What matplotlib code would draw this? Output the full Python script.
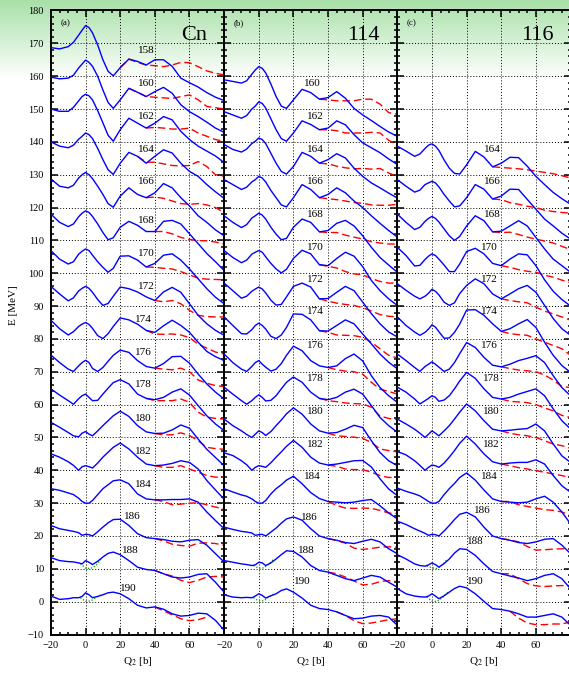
import numpy as np
import matplotlib.pyplot as plt
from matplotlib.ticker import MultipleLocator

plt.rcParams['font.family'] = ['Liberation Serif', 'DejaVu Serif']
plt.rcParams['mathtext.fontset'] = 'stix'

# Q2 grid [b] shared by all curves
Q = [-20, -15, -10, -7, -4, -2, 0, 2, 4, 7, 10, 13, 16, 20, 25, 30, 35, 40, 45, 50, 55, 60, 65, 70, 75, 80]
Q_red = [20, 25, 30, 35, 40, 45, 50, 55, 60, 65, 70, 75, 80]
Q_green = [-3, 0, 3, 6, 9]

# ---------------- (a) Cn ----------------
N_a = [158, 160, 162, 164, 166, 168, 170, 172, 174, 176, 178, 180, 182, 184, 186, 188, 190]
blue_a = [
    [8.7, 8.3, 9.0, 10.3, 12.5, 14.0, 15.4, 14.8, 13.2, 9.5, 5.0, 1.5, 0.1, 2.6, 5.2, 4.5, 3.4, 5.0, 5.0, 3.0, -0.6, -2.0, -3.3, -5.0, -6.4, -7.4],
    [9.7, 9.2, 9.4, 10.3, 12.5, 13.7, 14.9, 14.2, 13.0, 10.0, 5.8, 2.0, 0.2, 2.8, 6.3, 5.1, 3.8, 5.3, 6.6, 4.8, 1.3, -0.8, -2.3, -4.0, -5.8, -7.1],
    [10.0, 9.3, 9.3, 10.5, 12.5, 13.8, 14.5, 14.0, 12.8, 9.5, 5.8, 2.0, 0.2, 3.7, 7.2, 5.7, 4.2, 5.7, 7.7, 6.7, 3.2, 0.7, -1.3, -2.8, -4.3, -6.3],
    [10.0, 8.7, 8.2, 9.0, 10.8, 11.7, 12.7, 12.2, 11.0, 8.0, 4.6, 1.5, 0.1, 3.5, 6.8, 5.6, 3.5, 5.6, 7.6, 6.6, 3.5, 1.0, -0.5, -3.0, -5.2, -7.2],
    [8.7, 6.5, 6.0, 6.8, 9.0, 10.0, 10.7, 10.0, 8.8, 6.5, 4.0, 1.2, 0.1, 3.5, 6.0, 4.0, 3.0, 4.5, 7.3, 6.0, 3.0, 0.5, -2.5, -4.5, -6.8, -8.6],
    [8.0, 5.5, 4.2, 5.0, 7.2, 8.3, 9.0, 8.5, 7.3, 5.0, 2.4, 0.2, 0.8, 4.0, 5.8, 4.6, 2.7, 2.7, 5.8, 6.1, 5.0, 2.0, -1.0, -4.0, -6.5, -9.2],
    [6.9, 4.3, 2.8, 3.5, 5.8, 6.7, 7.4, 6.9, 5.5, 3.5, 1.8, 0.3, 1.5, 5.2, 5.3, 4.0, 1.9, 3.0, 5.5, 5.9, 4.0, 1.3, -1.7, -4.7, -7.3, -9.3],
    [6.0, 3.7, 1.6, 2.5, 4.6, 5.4, 6.0, 5.4, 4.2, 2.0, 0.2, 0.8, 3.0, 5.8, 5.3, 4.3, 2.8, 1.7, 4.3, 5.7, 4.2, 0.7, -2.8, -5.4, -7.4, -8.9],
    [5.7, 3.1, 1.2, 2.2, 3.8, 4.5, 5.0, 4.4, 3.2, 1.0, 0.1, 1.6, 3.8, 6.4, 5.8, 4.5, 2.6, 2.0, 4.0, 5.7, 4.1, 2.0, -1.0, -3.8, -5.4, -6.6],
    [5.1, 2.8, 0.8, 0.1, 1.8, 2.8, 3.5, 2.8, 1.0, 0.1, 1.3, 3.2, 5.0, 6.6, 5.9, 3.4, 1.6, 1.1, 2.5, 4.6, 4.7, 2.6, -0.7, -3.7, -6.2, -8.3],
    [4.8, 2.9, 1.2, 0.1, 1.8, 2.7, 3.2, 2.2, 1.2, 1.3, 3.2, 5.0, 6.7, 7.6, 6.3, 3.2, 1.9, 1.5, 2.2, 3.8, 4.8, 2.9, -0.3, -3.4, -5.9, -7.9],
    [4.6, 3.1, 1.5, 0.5, 0.2, 1.3, 1.8, 1.0, 0.5, 2.0, 3.6, 5.1, 6.6, 8.0, 6.4, 3.6, 1.7, 1.2, 1.3, 2.3, 3.8, 2.8, -0.5, -3.6, -6.1, -8.6],
    [5.0, 4.0, 2.6, 1.5, 0.0, 1.1, 1.4, 1.1, 0.7, 2.2, 4.0, 5.5, 7.0, 8.3, 6.5, 4.0, 1.9, 1.4, 1.6, 2.1, 2.9, 2.4, 0.4, -3.1, -6.0, -8.8],
    [4.4, 3.9, 3.1, 2.6, 1.5, 0.5, 0.0, 0.0, 0.8, 2.6, 4.4, 5.6, 6.8, 7.1, 5.9, 2.8, 1.3, 1.0, 1.0, 1.1, 1.1, 1.3, 0.3, -2.7, -5.3, -7.8],
    [3.2, 2.2, 1.7, 1.4, 1.0, 0.2, 0.5, 0.4, 0.0, 1.3, 2.7, 4.0, 5.0, 5.1, 3.2, 0.7, -0.5, -0.8, -1.1, -1.6, -1.8, -1.3, -1.1, -2.8, -5.4, -7.9],
    [3.4, 2.5, 2.2, 2.1, 1.8, 1.5, 2.5, 2.0, 1.3, 2.3, 3.6, 4.7, 5.1, 4.3, 2.5, 0.5, -0.2, -0.5, -1.5, -2.5, -2.8, -2.5, -1.7, -1.5, -4.1, -7.1],
    [1.7, 0.7, 0.9, 1.2, 1.2, 1.6, 2.7, 2.1, 1.2, 1.6, 2.1, 2.7, 2.9, 2.4, 0.9, -1.1, -1.9, -1.6, -2.3, -3.7, -4.4, -4.2, -3.5, -3.7, -5.7, -8.7],
]
red_from_a = [20, 25, 35, 30, 35, 40, 35, 40, 35, 40, 35, 40, 40, 40, 40, 40, 40]
red_a = [
    [2.6, 5.2, 4.2, 3.4, 3.2, 2.9, 3.4, 4.2, 4.1, 2.9, 1.6, 0.9, 0.4],
    [6.3, 5.1, 3.8, 3.6, 3.4, 3.2, 3.8, 4.3, 2.8, 0.8, 0.4, 0.0],
    [4.2, 4.4, 4.2, 3.9, 3.9, 4.2, 2.7, 1.7, 0.7, 0.2],
    [5.6, 3.8, 3.8, 3.3, 2.8, 2.7, 2.8, 4.0, 2.5, 0.0, -0.5],
    [3.0, 3.2, 2.8, 2.0, 1.2, 1.0, 1.2, 0.8, 0.0, -1.5],
    [2.7, 2.7, 2.0, 0.9, 0.3, -0.1, -0.1, -0.5, -1.1],
    [1.9, 1.8, 1.5, 1.3, 0.5, -0.5, -1.5, -1.8, -1.9, -2.0],
    [1.7, 1.3, 1.7, 0.7, -1.3, -2.8, -3.2, -3.3, -3.3],
    [2.6, 1.5, 1.4, 1.5, 1.2, 0.4, -1.6, -2.8, -4.0, -4.6],
    [1.1, 0.8, 0.6, 1.1, 0.0, -2.5, -3.5, -4.2, -4.5],
    [1.9, 1.2, 1.2, 1.2, 1.7, 0.7, -2.3, -3.8, -4.2, -4.4],
    [1.2, 0.8, 0.8, 1.4, 0.6, -1.0, -3.0, -3.4, -3.6],
    [1.4, 0.9, 0.9, 1.4, 0.4, -0.6, -1.6, -2.1, -2.1],
    [1.0, 0.5, -0.5, -0.3, 0.0, 0.1, -0.5, -1.2, -1.7],
    [-0.8, -1.5, -2.5, -2.9, -3.1, -2.2, -2.1, -2.3, -2.8],
    [-0.5, -1.5, -2.2, -3.5, -4.2, -3.5, -2.5, -2.3, -2.5],
    [-1.6, -2.8, -4.0, -5.2, -5.8, -5.5, -4.7],
]
green_a = [[1.6, 0.2, 0.1, 1.0, 3.0], [1.2, 0.1, 0.2, 1.3, 2.1]]
lab_q_a = [35.3, 35.3, 35.3, 35.3, 35.3, 35.3, 35.3, 35.3, 33.3, 33.3, 33.3, 33.3, 33.3, 33.3, 27.1, 25.6, 24.6]
lab_e_a = [167.8, 157.9, 147.8, 137.8, 127.8, 116.0, 106.0, 96.0, 86.0, 75.9, 66.0, 55.8, 45.8, 35.7, 25.8, 15.6, 4.0]

# ---------------- (b) 114 ----------------
N_b = [160, 162, 164, 166, 168, 170, 172, 174, 176, 178, 180, 182, 184, 186, 188, 190]
blue_b = [
    [8.9, 8.4, 7.9, 8.6, 10.6, 11.9, 12.9, 12.4, 11.0, 7.6, 3.8, 0.9, 0.2, 2.8, 6.0, 5.0, 3.0, 3.5, 5.3, 3.3, 0.2, -1.8, -3.5, -5.3, -7.0, -8.3],
    [9.2, 8.2, 7.2, 8.0, 10.0, 10.9, 12.2, 11.7, 10.3, 7.0, 3.7, 1.0, 0.2, 2.7, 6.4, 5.3, 3.7, 4.2, 6.4, 5.2, 2.2, -0.3, -1.8, -3.3, -5.2, -6.9],
    [9.2, 7.7, 6.9, 7.8, 9.5, 10.2, 11.2, 10.7, 9.5, 6.5, 3.5, 1.0, 0.2, 2.5, 6.8, 5.6, 3.5, 4.6, 6.4, 5.1, 2.0, -0.5, -2.5, -4.0, -5.6, -7.1],
    [8.5, 7.0, 5.5, 6.2, 7.8, 8.5, 9.5, 9.0, 7.8, 5.2, 3.0, 0.8, 0.2, 3.0, 7.0, 5.5, 3.0, 4.0, 6.0, 4.5, 2.0, 0.0, -2.5, -4.8, -7.0, -9.0],
    [7.5, 5.5, 3.9, 4.8, 6.8, 7.5, 8.3, 7.7, 6.5, 4.0, 1.9, 0.2, 0.6, 4.0, 6.5, 5.5, 2.6, 3.0, 5.2, 6.1, 4.4, 1.4, -2.1, -5.2, -7.5, -9.7],
    [6.9, 4.8, 3.2, 4.0, 5.8, 6.4, 6.9, 6.4, 5.0, 3.0, 1.3, 0.1, 1.2, 4.5, 7.0, 5.9, 2.6, 2.3, 4.5, 6.4, 5.2, 2.0, -2.2, -5.3, -7.8, -9.8],
    [7.0, 4.7, 2.4, 3.0, 4.5, 5.2, 5.8, 5.2, 4.0, 1.8, 0.3, 0.5, 2.8, 6.0, 7.0, 5.8, 2.2, 2.3, 4.2, 6.0, 4.7, 1.2, -2.3, -5.4, -7.9, -9.4],
    [6.7, 4.1, 1.6, 1.5, 2.8, 4.1, 4.8, 4.1, 3.0, 0.8, 0.1, 1.2, 3.5, 7.6, 7.5, 5.8, 2.5, 2.4, 4.1, 5.8, 4.6, 1.5, -1.5, -4.6, -7.1, -9.1],
    [5.4, 2.8, 0.8, 0.1, 1.6, 2.8, 3.4, 2.3, 1.4, 0.2, 0.8, 2.5, 5.0, 7.8, 6.4, 3.4, 1.8, 1.3, 1.8, 4.0, 5.4, 3.3, -1.2, -4.8, -7.3, -9.3],
    [5.3, 3.2, 1.2, 0.1, 1.2, 2.2, 3.0, 2.2, 1.1, 1.3, 2.7, 4.8, 6.8, 8.4, 6.8, 3.8, 1.9, 1.5, 2.2, 3.8, 4.7, 3.2, -0.3, -3.9, -6.4, -8.4],
    [5.6, 3.6, 2.0, 0.9, 0.0, 1.0, 2.0, 1.5, 0.6, 1.8, 3.6, 5.3, 7.2, 9.0, 7.1, 4.1, 2.0, 1.3, 1.5, 2.5, 3.7, 3.0, -1.0, -4.6, -7.1, -8.6],
    [5.3, 4.5, 2.9, 1.7, 0.0, 0.9, 1.4, 1.2, 0.9, 2.3, 4.0, 5.6, 7.3, 9.1, 7.0, 4.0, 2.2, 1.6, 1.9, 2.4, 2.9, 3.0, 1.0, -2.6, -5.7, -7.7],
    [4.4, 3.4, 2.5, 2.1, 1.3, 0.5, 0.0, 0.0, 0.8, 2.8, 4.4, 5.6, 7.0, 8.2, 5.9, 3.2, 1.4, 0.5, 0.3, 0.1, 0.3, 0.8, 1.1, -0.8, -3.0, -4.8],
    [2.7, 2.0, 1.4, 1.2, 0.9, 0.2, 0.4, 0.5, 0.0, 1.2, 2.4, 3.9, 5.2, 5.8, 4.8, 2.2, 0.0, -0.8, -1.3, -2.0, -2.3, -1.6, -1.0, -1.8, -3.9, -5.4],
    [2.5, 2.0, 1.5, 1.3, 1.0, 1.2, 2.0, 1.8, 1.0, 1.8, 3.0, 4.3, 5.5, 5.3, 3.6, 1.0, -0.5, -1.0, -2.0, -3.0, -3.6, -2.8, -2.0, -2.5, -4.1, -5.6],
    [2.1, 1.4, 1.2, 1.3, 1.2, 1.7, 2.4, 1.9, 1.1, 1.8, 2.4, 3.4, 3.9, 2.9, 1.1, -1.1, -2.1, -2.4, -3.1, -4.2, -5.2, -5.0, -4.4, -4.2, -4.7, -7.2],
]
red_from_b = [35, 35, 35, 35, 35, 35, 35, 35, 40, 35, 40, 40, 40, 40, 40, 45]
red_b = [
    [3.0, 2.8, 2.5, 2.5, 2.5, 3.0, 3.0, 1.5, -1.1, -1.6],
    [3.7, 3.7, 3.4, 2.7, 2.7, 2.7, 2.9, 2.7, 0.5, -1.1],
    [3.5, 3.3, 2.6, 2.1, 1.8, 1.9, 1.7, 1.9, 0.5, -0.5],
    [3.0, 2.7, 2.4, 2.0, 1.5, 1.3, 0.8, 0.7, 0.7, 1.0],
    [2.6, 2.4, 2.4, 1.6, 1.0, 0.4, -0.4, -0.8, -1.1, -1.1],
    [2.6, 2.1, 1.6, 0.5, -0.2, -0.5, -1.6, -2.5, -3.0, -3.0],
    [2.2, 1.5, 0.9, 0.5, 0.2, -0.5, -1.5, -2.6, -3.1, -3.3],
    [2.5, 2.0, 1.2, 1.1, 1.0, 0.5, -1.0, -3.0, -5.0, -5.8],
    [1.3, 0.6, 0.2, 0.0, -0.7, -3.2, -5.3, -6.0, -6.8],
    [1.9, 1.2, 0.9, 0.5, 0.3, 0.2, -0.8, -3.5, -4.2, -4.6],
    [1.3, 0.5, 0.3, 0.1, -0.3, -1.5, -3.5, -4.0, -4.4],
    [1.6, 1.2, 0.4, 0.2, 0.2, -0.6, -1.6, -2.2, -2.1],
    [0.5, -0.7, -1.5, -1.6, -1.5, -1.6, -2.2, -3.0, -3.2],
    [-0.8, -1.4, -2.2, -3.7, -4.1, -3.8, -3.4, -3.3, -3.4],
    [-1.0, -1.5, -2.5, -3.7, -4.9, -4.7, -3.9, -3.6, -3.9],
    [-3.1, -4.2, -5.8, -6.7, -6.5, -6.0, -5.5, -5.2],
]
green_b = [[1.0, 0.2, 0.3, 1.5, 3.2], [1.2, 0.2, 0.3, 1.5, 2.4]]
lab_q_b = [31.2, 32.9, 32.9, 32.9, 32.9, 32.9, 32.9, 32.9, 32.9, 32.9, 32.9, 32.9, 31.2, 29.3, 27.3, 25.4]
lab_e_b = [157.9, 147.8, 137.8, 127.8, 117.8, 107.9, 98.1, 88.2, 78.0, 68.0, 58.0, 48.0, 38.1, 25.7, 15.6, 6.0]

# ---------------- (c) 116 ----------------
N_c = [164, 166, 168, 170, 172, 174, 176, 178, 180, 182, 184, 186, 188, 190]
blue_c = [
    [8.7, 7.2, 5.6, 6.3, 8.0, 9.0, 9.4, 8.7, 7.4, 4.5, 2.0, 0.4, 0.2, 3.0, 7.1, 5.4, 2.4, 3.5, 5.3, 5.2, 2.6, -0.5, -3.0, -5.4, -7.3, -9.0],
    [8.5, 6.5, 4.7, 5.3, 7.0, 7.5, 8.0, 7.5, 6.3, 4.0, 2.0, 0.2, 0.5, 3.0, 7.0, 5.6, 2.6, 3.5, 5.6, 5.5, 2.5, -0.5, -3.5, -5.6, -7.8, -9.6],
    [8.0, 5.5, 3.3, 4.0, 5.8, 6.7, 7.3, 6.7, 5.6, 3.5, 1.4, 0.0, 1.2, 4.4, 7.5, 6.0, 2.6, 2.8, 4.4, 6.0, 4.4, 0.9, -2.6, -5.7, -7.7, -9.7],
    [7.9, 5.4, 2.2, 2.4, 4.2, 5.2, 5.9, 5.4, 4.3, 2.5, 0.5, 0.5, 2.8, 6.6, 7.6, 5.9, 3.0, 2.3, 4.3, 5.9, 5.6, 2.3, -2.0, -5.5, -8.0, -10.0],
    [6.8, 4.8, 3.0, 2.2, 3.0, 3.9, 5.1, 4.5, 3.4, 1.2, 0.2, 1.0, 3.8, 6.3, 8.3, 6.8, 3.7, 2.2, 3.7, 5.3, 6.3, 4.2, 0.2, -3.8, -6.9, -8.9],
    [6.7, 4.1, 2.1, 1.1, 2.0, 3.0, 4.3, 3.6, 2.2, 0.2, 0.3, 2.0, 4.5, 8.8, 8.9, 7.2, 4.6, 2.3, 3.1, 4.6, 5.9, 3.5, -1.0, -5.0, -8.1, -10.2],
    [5.4, 3.4, 1.3, 0.1, 1.6, 2.3, 3.0, 2.3, 1.4, 0.1, 0.8, 2.8, 5.5, 8.9, 7.4, 4.4, 2.0, 1.5, 2.3, 3.4, 4.1, 4.9, 2.8, -1.2, -4.8, -7.3],
    [5.3, 3.8, 1.7, 0.2, 1.2, 1.9, 2.7, 2.2, 1.0, 1.4, 2.7, 4.8, 7.2, 9.8, 8.0, 4.8, 2.2, 1.7, 2.2, 3.2, 4.0, 4.8, 2.7, -1.3, -4.9, -7.4],
    [5.6, 4.1, 2.5, 1.3, 0.0, 1.0, 2.0, 1.3, 0.5, 2.0, 3.6, 5.6, 7.7, 10.2, 8.1, 5.1, 2.5, 2.0, 2.2, 2.5, 2.7, 4.1, 2.0, -2.0, -5.6, -7.6],
    [5.7, 4.7, 2.9, 1.5, 0.0, 0.9, 1.6, 1.4, 0.9, 2.2, 4.0, 6.0, 8.2, 10.4, 8.0, 5.0, 2.6, 1.9, 2.2, 2.4, 2.4, 3.2, 1.9, -1.6, -4.7, -6.7],
    [4.6, 3.6, 2.8, 2.2, 1.2, 0.5, 0.0, 0.0, 0.5, 2.6, 4.4, 6.0, 7.8, 9.2, 7.0, 4.0, 1.3, 0.5, 0.3, 0.1, 0.3, 1.3, 2.1, 0.3, -2.7, -6.3],
    [4.5, 3.5, 2.2, 1.5, 0.8, 0.2, 0.5, 0.4, 0.0, 1.5, 3.2, 5.0, 6.6, 7.2, 5.8, 2.7, 0.0, -0.8, -1.3, -2.0, -2.3, -1.8, -1.0, -0.8, -2.8, -5.4],
    [4.3, 3.0, 1.5, 1.0, 0.8, 1.2, 1.8, 1.3, 0.5, 1.6, 3.0, 4.8, 6.1, 5.9, 4.1, 1.5, -0.8, -1.5, -2.2, -2.8, -3.6, -3.0, -2.0, -1.5, -3.0, -6.1],
    [4.0, 2.4, 1.7, 1.5, 1.4, 1.7, 2.4, 1.7, 0.9, 1.8, 2.9, 4.0, 4.7, 4.2, 2.4, 0.1, -2.1, -2.4, -2.9, -3.7, -4.7, -4.7, -4.2, -3.7, -4.7, -7.2],
]
red_from_c = [35, 35, 35, 40, 40, 40, 40, 40, 40, 40, 40, 40, 40, 45]
red_c = [
    [2.4, 2.2, 2.0, 1.8, 1.5, 1.1, 0.7, 0.3, -0.3, -1.0],
    [2.6, 2.4, 1.5, 1.0, 0.4, 0.0, -0.8, -1.2, -1.5, -1.7],
    [2.6, 2.4, 2.5, 1.8, 1.0, 0.4, -0.2, -0.8, -1.8, -2.8],
    [2.3, 1.8, 1.1, 0.6, 0.3, -0.6, -1.2, -2.1, -2.9],
    [2.2, 1.7, 1.3, 1.0, -0.3, -1.5, -2.4, -3.3, -4.3],
    [2.3, 1.6, 1.3, 1.1, 0.0, -1.0, -2.0, -3.0, -5.0],
    [1.5, 1.0, 0.5, 0.3, 0.0, -1.0, -2.5, -4.5, -4.8],
    [1.7, 1.0, 0.8, 0.6, 0.0, -1.0, -1.9, -3.3, -3.9],
    [2.0, 1.3, 0.8, 0.5, 0.0, -1.0, -2.0, -2.5, -3.3],
    [1.9, 1.4, 0.8, 0.4, -0.1, -0.6, -1.1, -1.6, -2.3],
    [0.5, 0.5, -0.5, -1.0, -1.5, -2.0, -2.2, -2.7, -3.7],
    [-0.8, -1.2, -1.8, -3.2, -4.3, -4.2, -4.0, -3.9, -4.0],
    [-1.5, -1.5, -3.0, -4.5, -5.2, -5.4, -5.2, -5.1, -5.1],
    [-2.9, -5.0, -6.5, -7.0, -7.0, -6.8, -6.8, -6.2],
]
green_c = [[0.8, 0.3, 0.1, 1.2, 3.0], [1.4, 0.1, 0.1, 1.2, 2.9]]
lab_q_c = [34.9, 34.9, 34.9, 32.9, 32.9, 32.9, 32.9, 34.5, 34.5, 34.5, 32.9, 29.3, 24.8, 24.8]
lab_e_c = [137.8, 127.8, 117.8, 107.9, 98.1, 88.2, 78.0, 68.0, 58.0, 48.0, 38.1, 27.8, 18.2, 6.0]

panels = [
    ('(a)', 'Cn', N_a, blue_a, red_from_a, red_a, green_a, lab_q_a, lab_e_a),
    ('(b)', '114', N_b, blue_b, red_from_b, red_b, green_b, lab_q_b, lab_e_b),
    ('(c)', '116', N_c, blue_c, red_from_c, red_c, green_c, lab_q_c, lab_e_c),
]

fig = plt.figure(figsize=(5.69, 6.73), dpi=100)

# green gradient behind everything
bg = fig.add_axes([0, 0, 1, 1], zorder=-10)
h = 673
fade = np.clip(np.arange(h) / 78.0, 0, 1)[:, None]
top = np.array([0.66, 0.88, 0.66])
grad = top[None, None, :] * (1 - fade[:, :, None]) + fade[:, :, None]
bg.imshow(grad, aspect='auto', extent=[0, 1, 0, 1], origin='upper')
bg.axis('off')

left, bottom, w, hgt = 0.0895, 0.0572, 0.3044, 0.9272
Qa = np.array(Q)
for k, (tag, title, Ns, blue, red_from, red, green, lq, le) in enumerate(panels):
    ax = fig.add_axes([left + k * w, bottom, w, hgt])
    ax.set_facecolor('none')
    for i, N in enumerate(Ns):
        off = 5 * (190 - N)
        ax.plot(Qa, np.array(blue[i]) + off, color='#0000ff', lw=1.0, zorder=3)
        qs = [q for q in Q_red if q >= red_from[i]][:len(red[i])]
        ax.plot(qs, np.array(red[i]) + off, color='#ff0000', lw=1.0,
                dashes=(5.5, 2.8), zorder=2)
        ax.text(lq[i], le[i], str(N), fontsize=8, ha='center', va='center', zorder=4)
    for j, N in enumerate([188, 190]):
        off = 5 * (190 - N)
        ax.plot(Q_green, np.array(green[j]) + off, color='#009900', lw=0.9,
                ls=(0, (1, 1.5)), zorder=2)

    ax.set_xlim(-20, 80)
    ax.set_ylim(-10, 180)
    ax.xaxis.set_major_locator(MultipleLocator(20))
    ax.xaxis.set_minor_locator(MultipleLocator(5))
    ax.yaxis.set_major_locator(MultipleLocator(10))
    ax.yaxis.set_minor_locator(MultipleLocator(2))
    ax.set_xticks([-20, 0, 20, 40, 60])
    ax.tick_params(which='both', direction='in', top=True, right=True, width=1.1, labelsize=7.5)
    ax.tick_params(which='major', length=5, pad=5)
    ax.tick_params(which='minor', length=2.5)
    ax.grid(True, which='major', color='black', lw=0.7, ls=(0, (1, 2)))
    for s in ax.spines.values():
        s.set_linewidth(1.4)
    if k > 0:
        ax.set_yticklabels([])
    ax.set_xlabel(r'Q$_2$ [b]', fontsize=8, labelpad=3)
    ax.text(-14.5, 176, tag, fontsize=6.5, ha='left', va='center')
    ax.text(70, 172.5, title, fontsize=16, ha='right', va='center')

fig.text(13 / 569, 1 - 305 / 673, 'E [MeV]', rotation=90, fontsize=8, ha='center', va='center')

fig.savefig('out.png', dpi=100)
